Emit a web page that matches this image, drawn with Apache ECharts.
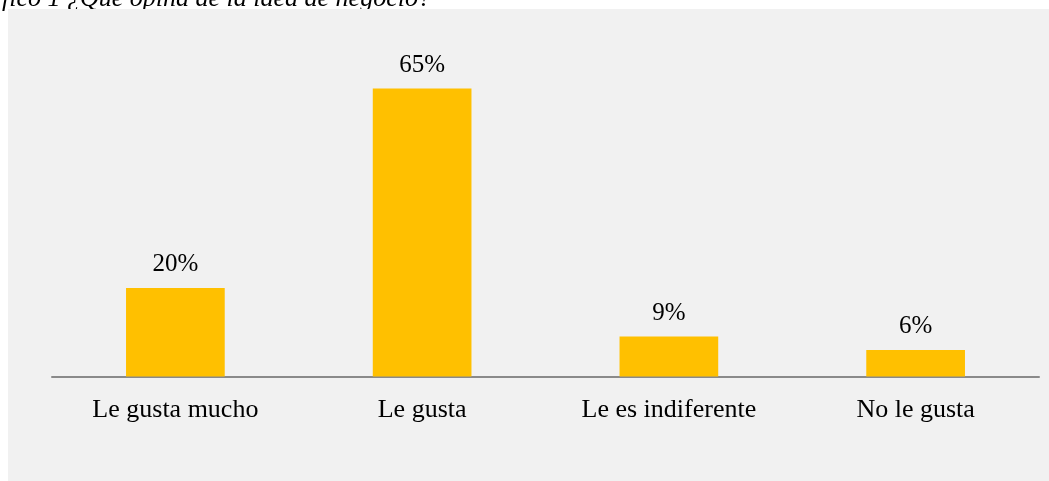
<!DOCTYPE html>
<html>
<head>
<meta charset="utf-8">
<script src="https://cdn.jsdelivr.net/npm/echarts@6/dist/echarts.min.js"></script>
<style>
  html, body { margin: 0; padding: 0; background: #ffffff; }
  #chart { width: 1049px; height: 481px; }
</style>
</head>
<body>
<div id="chart"></div>
<script>
// Survey answers: opinion about the business idea
const categories = ['Le gusta mucho', 'Le gusta', 'Le es indiferente', 'No le gusta'];
const shares = [20, 65, 9, 6];
const caption = 'fico 1 ¿Qué opina de la idea de negocio?';

const serif = '"Liberation Serif", "DejaVu Serif", serif';

const chart = echarts.init(document.getElementById('chart'), null, { renderer: 'canvas' });

chart.setOption({
  backgroundColor: '#ffffff',
  animation: false,
  graphic: [
    {
      type: 'text',
      z: -2,
      left: 2,
      top: -14,
      style: {
        text: caption,
        font: 'italic 26px ' + serif,
        fill: '#000000'
      }
    },
    {
      type: 'rect',
      z: -1,
      shape: { x: 8, y: 9, width: 1041, height: 472 },
      style: { fill: '#f1f1f1' }
    }
  ],
  grid: {
    left: 52,
    right: 10,
    top: 88.5,
    bottom: 104.5,
    containLabel: false
  },
  xAxis: {
    type: 'category',
    data: categories,
    axisLine: { show: true, lineStyle: { color: '#8a8a8a', width: 2 } },
    axisTick: { show: false },
    axisLabel: {
      margin: 21,
      color: '#000000',
      fontFamily: serif,
      fontSize: 26
    }
  },
  yAxis: {
    type: 'value',
    min: 0,
    max: 65,
    show: false,
    splitLine: { show: false }
  },
  series: [
    {
      type: 'bar',
      data: shares,
      barWidth: '40%',
      itemStyle: { color: '#ffc000' },
      label: {
        show: true,
        position: 'top',
        distance: 11,
        formatter: '{c}%',
        color: '#000000',
        fontFamily: serif,
        fontSize: 25
      }
    }
  ]
});
</script>
</body>
</html>
